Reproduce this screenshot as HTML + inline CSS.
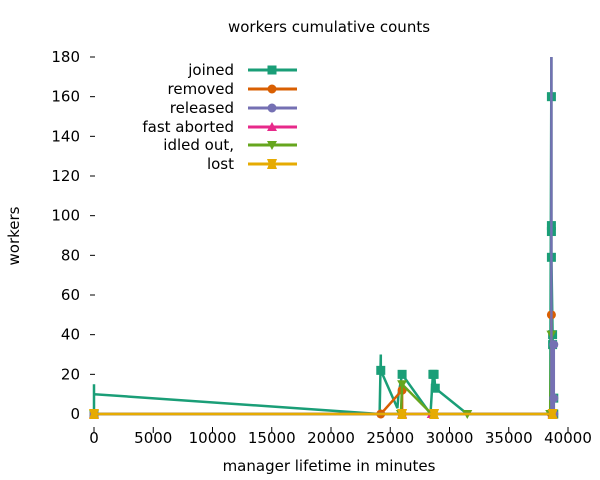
<!DOCTYPE html>
<html><head><meta charset="utf-8"><style>
html,body{margin:0;padding:0;background:#fff;}
svg{display:block;font-family:"DejaVu Sans","Liberation Sans",sans-serif;}
</style></head><body>
<svg id="chart" width="600" height="480" viewBox="0 0 600 480">
<text x="329" y="32" font-size="15" text-anchor="middle" fill="#000">workers cumulative counts</text>
<text x="0" y="0" font-size="15" text-anchor="middle" transform="translate(19,236) rotate(-90)">workers</text>
<text x="329" y="471" font-size="15" text-anchor="middle">manager lifetime in minutes</text>
<g id="axes"></g>
<g id="series"></g>
<g id="legend"></g>
</svg>
<script>
const xTicks=[0,5000,10000,15000,20000,25000,30000,35000,40000];
const yTicks=[0,20,40,60,80,100,120,140,160,180];
const seriesNames=["joined","removed","released","fast aborted","idled out,","lost"];
const seriesColors=["#1a9e77","#d95f02","#7570b3","#e7298a","#66a61e","#e6ab02"];
const markers=["square","circle","circle","triangle","tridown","cross"];
const joinedX=[0,0,0,24100,24200,24200,25600,25700,26000,28400,28600,28700,28800,31500,38500,38600,38600,38600,38600,38600,38700,38700,38800,38800];
const joinedY=[0,15,10,0,30,22,3,10,20,0,20,20,13,0,0,180,160,95,92,79,40,35,8,0];
const removedX=[0,24200,26000,26000,38600,38600,38600];
const removedY=[0,0,12,0,0,50,0];
const releasedX=[0,38600,38600,38600,38800,38800,38800];
const releasedY=[0,0,180,35,35,8,0];
const fastAbortedX=[0,26000,28500,38700];
const fastAbortedY=[0,0,0,0];
const idledX=[0,25900,26000,28500,31500,38500,38600,38600];
const idledY=[0,0,15,0,0,0,40,0];
const lostX=[0,26000,28700,38700];
const lostY=[0,0,0,0];
const allX=[joinedX,removedX,releasedX,fastAbortedX,idledX,lostX];
const allY=[joinedY,removedY,releasedY,fastAbortedY,idledY,lostY];
const markedIdx=[[0,5,8,10,11,12,16,17,18,19,20,21,22,23],[0,1,2,3,5,6],[0,4,5,6],[0,1,2,3],[0,1,2,3,4,5,6,7],[0,1,2,3]];

const NS="http://www.w3.org/2000/svg";
function X(v){return 94+v*(568-94)/40000;}
function Y(v){return 414-v*(414-57)/180;}
function mk(tag,attrs){const e=document.createElementNS(NS,tag);for(const k in attrs)e.setAttribute(k,attrs[k]);return e;}
const axes=document.getElementById('axes');
yTicks.forEach(t=>{
  const l=mk('line',{x1:90,x2:95,y1:Y(t),y2:Y(t),stroke:'#000'});
  
  
  axes.appendChild(l);
  const tx=mk('text',{x:80,y:Y(t)+5,'font-size':15,'text-anchor':'end'});
  tx.textContent=t;
  
  
  axes.appendChild(tx);
});
xTicks.forEach(t=>{
  const l=mk('line',{x1:X(t),x2:X(t),y1:427,y2:433,stroke:'#000'});
  
  
  axes.appendChild(l);
  const tx=mk('text',{x:X(t),y:443,'font-size':15,'text-anchor':'middle'});
  tx.textContent=t;
  
  
  axes.appendChild(tx);
});
function marker(g,type,x,y,c){
  let e;
  if(type==='square')e=mk('rect',{x:x-4.5,y:y-4.5,width:9,height:9,fill:c});
  else if(type==='circle')e=mk('circle',{cx:x,cy:y,r:4.5,fill:c});
  else if(type==='triangle')e=mk('polygon',{points:`${x-5},${y+4} ${x+5},${y+4} ${x},${y-5}`,fill:c});
  else if(type==='tridown')e=mk('polygon',{points:`${x-5},${y-4} ${x+5},${y-4} ${x},${y+5}`,fill:c});
  else e=mk('polygon',{points:`${x-5},${y-5} ${x+5},${y-5} ${x+3},${y} ${x+5},${y+5} ${x-5},${y+5} ${x-3},${y}`,fill:c});
  
  
  g.appendChild(e);
}
const sg=document.getElementById('series');
const order=[0,1,3,4,2,5];
order.forEach(i=>{
  const g=mk('g',{});
  
  
  const pts=allX[i].map((v,j)=>X(v).toFixed(1)+','+Y(allY[i][j]).toFixed(1)).join(' ');
  const pl=mk('polyline',{points:pts,fill:'none',stroke:seriesColors[i],'stroke-width':2.5});
  
  
  g.appendChild(pl);
  markedIdx[i].forEach(j=>marker(g,markers[i],X(allX[i][j]),Y(allY[i][j]),seriesColors[i]));
  sg.appendChild(g);
});
const lg=document.getElementById('legend');
const rowY=[70,89,108,127,145,164];
seriesNames.forEach((n,i)=>{
  const g=mk('g',{});
  
  
  const tx=mk('text',{x:234,y:rowY[i]+5,'font-size':15,'text-anchor':'end'});
  tx.textContent=n;
  g.appendChild(tx);
  g.appendChild(mk('line',{x1:248,x2:297,y1:rowY[i],y2:rowY[i],stroke:seriesColors[i],'stroke-width':3}));
  marker(g,markers[i],272,rowY[i],seriesColors[i]);
  lg.appendChild(g);
});
</script>
</body></html>
